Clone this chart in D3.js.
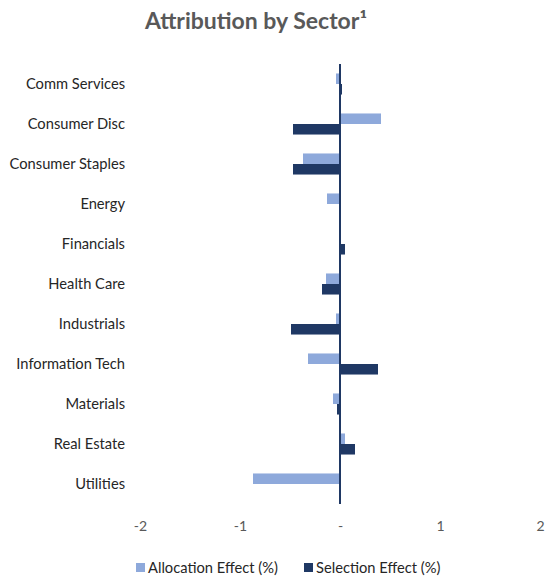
<!DOCTYPE html>
<html>
<head>
<meta charset="utf-8">
<script src="https://cdn.jsdelivr.net/npm/d3@7"></script>
<style>
  body { margin: 0; background: #fff; }
  svg text { font-family: Lato, "Open Sans", sans-serif; fill: #262626; }
</style>
</head>
<body>
<div id="chart"></div>
<script>
// Attribution by sector, allocation vs selection effect (%)
const sectors = ["Comm Services", "Consumer Disc", "Consumer Staples", "Energy", "Financials",
    "Health Care", "Industrials", "Information Tech", "Materials", "Real Estate", "Utilities"];
const allocation = [-0.04, 0.41, -0.37, -0.13, 0.01, -0.14, -0.04, -0.32, -0.07, 0.05, -0.87];
const selection = [0.02, -0.47, -0.47, 0.0, 0.05, -0.18, -0.49, 0.38, -0.03, 0.15, 0.0];
const xTicks = [-2, -1, 0, 1, 2];
const seriesNames = ["Allocation Effect (%)", "Selection Effect (%)"];
const colors = ["#8EA9DB", "#1F3864"];

const width = 547, height = 576;
const margin = { top: 64, right: 7, bottom: 72, left: 140 };

const svg = d3.select("#chart").append("svg")
    .attr("width", width)
    .attr("height", height);

// Title
svg.append("text")
    .attr("x", 256)
    .attr("y", 29)
    .attr("text-anchor", "middle")
    .style("font-size", "23px")
    .style("font-weight", "bold")
    .style("fill", "#595959")
    .text("Attribution by Sector¹");

const x = d3.scaleLinear()
    .domain([-2, 2])
    .range([margin.left, width - margin.right]);

const y0 = d3.scaleBand()
    .domain(sectors)
    .range([margin.top, height - margin.bottom]);

const y1 = d3.scaleBand()
    .domain([0, 1])
    .range([0, y0.bandwidth()])
    .paddingOuter(0.9);

const rows = sectors.map((s, i) => ({ sector: s, values: [allocation[i], selection[i]] }));

const groups = svg.selectAll(".row")
    .data(rows)
    .enter().append("g")
    .attr("class", "row")
    .attr("transform", d => `translate(0,${y0(d.sector)})`);

groups.selectAll("rect")
    .data(d => d.values.map((v, k) => ({ v, k })))
    .enter().append("rect")
    .attr("x", d => x(Math.min(0, d.v)))
    .attr("y", d => y1(d.k))
    .attr("width", d => Math.abs(x(d.v) - x(0)))
    .attr("height", y1.bandwidth())
    .attr("fill", d => colors[d.k]);

// Zero line
svg.append("line")
    .attr("x1", x(0))
    .attr("x2", x(0))
    .attr("y1", margin.top)
    .attr("y2", height - margin.bottom)
    .attr("stroke", "#1F3864")
    .attr("stroke-width", 2);

// Category labels
svg.selectAll(".cat")
    .data(sectors)
    .enter().append("text")
    .attr("class", "cat")
    .attr("x", 125)
    .attr("y", d => y0(d) + y0.bandwidth() / 2)
    .attr("dy", "0.35em")
    .attr("text-anchor", "end")
    .style("font-size", "14.7px")
    .text(d => d);

// X axis (labels only)
const xAxis = d3.axisBottom(x)
    .tickValues(xTicks)
    .tickSize(0)
    .tickFormat(d => d === 0 ? "-" : d);

svg.append("g")
    .attr("transform", `translate(0,${height - margin.bottom + 14})`)
    .call(xAxis)
    .call(g => g.select(".domain").remove())
    .call(g => g.selectAll("text")
        .style("font-family", "Lato, 'Open Sans', sans-serif")
        .style("font-size", "14px")
        .style("fill", "#595959"));

// Legend
const legendX = [136, 304];
const legend = svg.selectAll(".legend")
    .data(seriesNames)
    .enter().append("g")
    .attr("class", "legend")
    .attr("transform", (d, i) => `translate(${legendX[i]},563)`);

legend.append("rect")
    .attr("width", 9)
    .attr("height", 9)
    .attr("fill", (d, i) => colors[i]);

legend.append("text")
    .attr("x", 12)
    .attr("y", 5)
    .attr("dy", "0.35em")
    .style("font-size", "14.7px")
    .text(d => d);
</script>
</body>
</html>
